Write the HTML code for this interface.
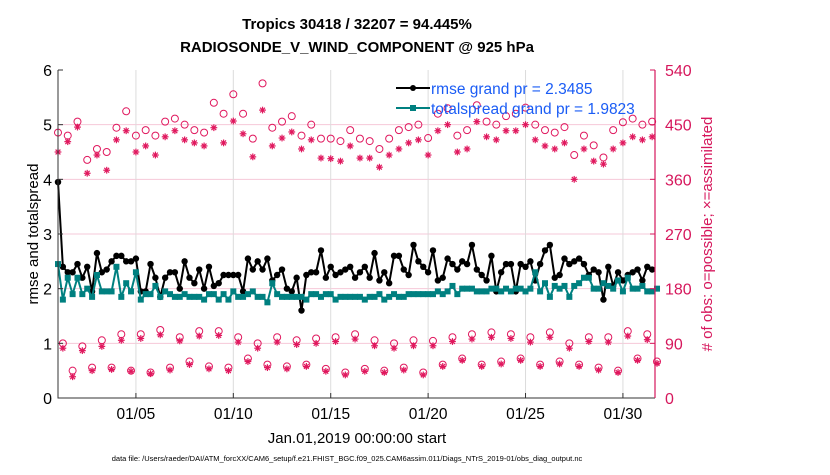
<!DOCTYPE html>
<html><head><meta charset="utf-8"><style>
body{margin:0;background:#fff;width:830px;height:470px;overflow:hidden;font-family:"Liberation Sans",sans-serif}
svg text{font-family:"Liberation Sans",sans-serif}
</style></head><body>
<svg id="chart" width="830" height="470" xmlns="http://www.w3.org/2000/svg">
<text x="357" y="29" text-anchor="middle" font-size="15" font-weight="bold">Tropics 30418 / 32207 = 94.445%</text>
<text x="357" y="52" text-anchor="middle" font-size="15" font-weight="bold">RADIOSONDE_V_WIND_COMPONENT @ 925 hPa</text>
<g id="grid"></g><g id="marks"></g><g id="axes"></g>
<text transform="translate(38,234) rotate(-90)" text-anchor="middle" font-size="15">rmse and totalspread</text>
<text transform="translate(712,234) rotate(-90)" text-anchor="middle" font-size="15" fill="#d6175c">#  of obs: o=possible; ×=assimilated</text>
<text x="357" y="443" text-anchor="middle" font-size="15">Jan.01,2019 00:00:00 start</text>
<text x="347" y="461" text-anchor="middle" font-size="7.5">data file: /Users/raeder/DAI/ATM_forcXX/CAM6_setup/f.e21.FHIST_BGC.f09_025.CAM6assim.011/Diags_NTrS_2019-01/obs_diag_output.nc</text>
<g id="marksTop"></g>
<g>
<line x1="396" y1="88" x2="430" y2="88" stroke="#000" stroke-width="2"/><circle cx="413" cy="88" r="3" fill="#000"/>
<line x1="396" y1="108" x2="430" y2="108" stroke="#008080" stroke-width="2"/><rect x="410" y="105" width="6" height="6" fill="#008080"/>
<text x="431" y="94" font-size="15.5" fill="#1a5cf5">rmse grand pr = 2.3485</text>
<text x="431" y="114" font-size="15.5" fill="#1a5cf5">totalspread grand pr = 1.9823</text>
</g>
</svg>
<script>
const xTickLabels=["01/05","01/10","01/15","01/20","01/25","01/30"];
const xTickDays=[4,9,14,19,24,29];
const yTicks=[0,1,2,3,4,5,6];
const yRightTicks=[0,90,180,270,360,450,540];
const rmse=[3.95,2.4,2.3,2.3,2.45,2.2,2.4,1.95,2.65,2.3,2.35,2.5,2.6,2.6,2.5,2.5,2.55,1.95,1.95,2.45,2.2,1.85,2.2,2.3,2.3,2.0,2.5,2.2,2.1,2.35,2.0,2.4,2.05,2.1,2.25,2.25,2.25,2.25,1.95,2.55,2.35,2.5,2.35,2.55,2.15,2.25,2.35,2.0,1.95,2.2,1.6,2.25,2.3,2.3,2.7,2.2,2.4,2.25,2.3,2.35,2.4,2.2,2.3,
2.4,2.2,2.65,2.15,2.3,2.1,2.6,2.6,2.35,2.25,2.8,2.5,2.4,2.3,2.7,2.15,2.2,2.55,2.45,2.35,2.5,2.45,2.8,2.35,2.25,2.15,2.6,1.95,2.3,2.45,2.45,1.95,2.45,2.4,2.5,2.15,2.45,2.7,2.8,2.2,2.25,2.55,2.45,2.5,2.55,2.45,2.25,2.35,2.3,1.8,2.4,2.05,2.3,2.15,2.25,2.3,2.35,2.15,2.4,2.35];
const spread=[2.45,1.8,2.2,1.9,2.2,1.9,2.0,1.85,2.25,1.95,1.95,1.95,2.4,1.85,2.1,1.95,2.3,1.8,1.9,1.9,2.05,1.85,1.95,1.9,1.85,1.85,1.9,1.85,1.85,1.85,1.8,1.9,1.9,1.8,1.9,1.8,1.95,1.85,1.85,1.9,1.95,1.85,1.85,1.75,2.1,1.9,1.85,1.85,1.85,1.85,1.85,1.8,1.9,1.9,1.85,1.9,1.9,1.8,1.85,1.85,1.85,1.85,1.85,
1.8,1.85,1.85,1.9,1.8,1.85,1.9,1.85,1.85,1.9,1.9,1.9,1.9,1.9,1.9,1.95,1.9,1.95,2.05,1.9,2.0,2.0,2.0,1.95,1.95,1.95,2.0,2.0,1.95,2.0,1.95,2.0,2.0,1.95,2.0,2.3,1.95,2.1,1.85,2.05,2.0,2.05,1.85,2.05,2.1,2.2,2.2,2.0,2.0,2.1,2.05,2.0,2.15,1.95,2.2,2.0,2.0,2.05,1.95,1.95,2.0];
// obs counts: high (00Z/12Z), 06Z, 18Z
const possHigh=[437,432,455,392,410,405,445,472,432,441,432,455,460,450,441,437,486,468,500,468,427,518,445,455,464,432,450,427,427,423,441,427,423,410,427,441,446,450,428,468,477,432,441,482,455,450,464,468,478,450,441,437,446,400,432,416,396,441,454,460,450,455];
const assimHigh=[405,422,446,370,400,375,425,440,405,415,400,430,440,425,420,415,445,420,456,435,397,474,415,428,438,410,425,395,394,390,415,395,395,380,400,410,420,425,400,440,450,405,410,455,430,425,440,440,450,425,415,410,420,360,410,390,385,410,420,430,425,430];
const poss06=[90,85,95,105,105,112,100,110,110,100,90,100,95,98,100,105,95,90,95,94,100,105,108,105,100,108,90,100,100,110,105];
const assim06=[82,78,85,95,98,104,94,102,103,92,82,92,88,90,93,97,86,82,86,86,93,97,100,98,92,100,82,93,92,102,96];
const poss18=[45,50,50,45,42,50,60,52,50,65,55,52,55,48,42,48,45,50,42,55,65,55,60,65,55,60,55,50,45,65,60];
const assim18=[35,45,47,44,40,46,55,48,45,60,50,48,52,44,38,44,42,46,38,52,62,52,56,62,52,56,52,46,42,62,57];

const NS="http://www.w3.org/2000/svg";
const X0=58,X1=655,Y0=398,Y1=70,PXD=19.48;
const xs=d=>X0+d*PXD;
const yl=v=>Y0-(v/6)*(Y0-Y1);
const yr=v=>Y0-(v/540)*(Y0-Y1);
function mk(t,a,p){const e=document.createElementNS(NS,t);for(const k in a)e.setAttribute(k,a[k]);(p||document.getElementById('marks')).appendChild(e);return e;}
const grid=document.getElementById('grid'),axes=document.getElementById('axes');
yTicks.forEach((v,i)=>{
 if(i>0&&i<6){const g=mk('line',{x1:X0,x2:X1,y1:yl(v),y2:yl(v),stroke:'#f6c8d8','stroke-width':1},grid);
 
 }
 const t=mk('text',{x:X0-6,y:yl(v)+6,'text-anchor':'end','font-size':16},axes);t.textContent=v;
 
 
 mk('line',{x1:X0,x2:X0+5,y1:yl(v),y2:yl(v),stroke:'#333'},axes);
});
yRightTicks.forEach(v=>{
 const t=mk('text',{x:X1+10,y:yr(v)+6,'font-size':16,fill:'#d6175c'},axes);t.textContent=v;
 
 
 mk('line',{x1:X1-5,x2:X1,y1:yr(v),y2:yr(v),stroke:'#d6175c'},axes);
});
xTickDays.forEach((d,i)=>{
 const g=mk('line',{x1:xs(d),x2:xs(d),y1:Y1,y2:Y0,stroke:'#dcdcdc'},grid);
 
 
 mk('line',{x1:xs(d),x2:xs(d),y1:Y0-5,y2:Y0,stroke:'#333'},axes);
 const t=mk('text',{x:xs(d),y:419,'text-anchor':'middle','font-size':15.5},axes);t.textContent=xTickLabels[i];
 
 
});
const la=mk('path',{d:`M${X0} ${Y1}V${Y0}H${X1}`,fill:'none',stroke:'#333','stroke-width':1},axes);


const ra=mk('line',{x1:X1,x2:X1,y1:Y1,y2:Y0,stroke:'#d6175c','stroke-width':1.2},axes);



function star(x,y,c){const g=mk('g',{stroke:c,'stroke-width':1.2});
 
 
 for(let a=0;a<180;a+=45){const r=a*Math.PI/180,dx=3.4*Math.cos(r),dy=3.4*Math.sin(r);mk('line',{x1:x-dx,y1:y-dy,x2:x+dx,y2:y+dy},g);}}
function circ(x,y){const c=mk('circle',{cx:x,cy:y,r:3.5,fill:'none',stroke:'#e0185e','stroke-width':1});
 
 }
possHigh.forEach((v,i)=>{const x=xs(i*0.5);circ(x,yr(v));star(x,yr(assimHigh[i]),'#e0185e');});
poss06.forEach((v,i)=>{const x=xs(i+0.25);circ(x,yr(v));star(x,yr(assim06[i]),'#e0185e');});
poss18.forEach((v,i)=>{const x=xs(i+0.75);circ(x,yr(v));star(x,yr(assim18[i]),'#e0185e');});

function series(arr,col,name,sq){
 const p=mk('polyline',{points:arr.map((v,i)=>xs(i*0.25)+','+yl(v)).join(' '),fill:'none',stroke:col,'stroke-width':2,'stroke-linejoin':'round'});
 
 
 arr.forEach((v,i)=>{let m;
  if(sq)m=mk('rect',{x:xs(i*0.25)-3,y:yl(v)-3,width:6,height:6,fill:col});
  else m=mk('circle',{cx:xs(i*0.25),cy:yl(v),r:3.2,fill:col});
  
  });
}
series(rmse,'#000','rmse',false);
series(spread,'#008080','totalspread',true);
</script>
</body></html>
